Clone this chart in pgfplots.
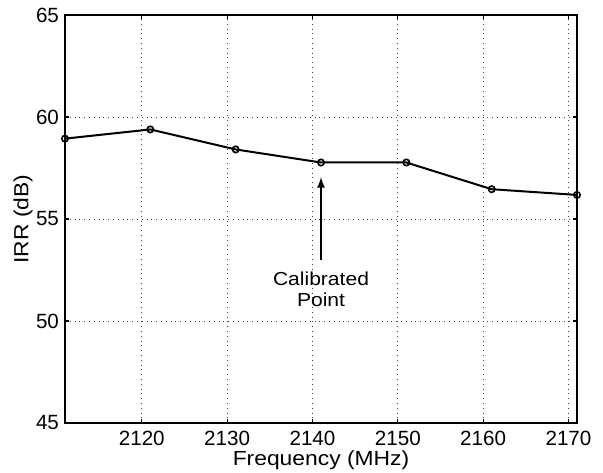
\documentclass[border=0pt]{standalone}
\usepackage{fontspec}
\setmainfont{Liberation Sans}
\newfontfamily\widesans[FakeStretch=1.12]{Liberation Sans}
\usepackage{pgfplots}
\pgfplotsset{compat=1.18}

\begin{document}
\begin{tikzpicture}
% fixed page: 603x472 px at 0.5pt per px
\path[use as bounding box] (-32.5pt,-24.5pt) rectangle (269pt,211.5pt);
\begin{axis}[%
width=256pt,
height=204pt,
at={(0pt,0pt)},
anchor=south west,
scale only axis,
xmin=2111,
xmax=2171,
ymin=45,
ymax=65,
xtick={2120,2130,...,2170},
ytick={45,50,...,65},
tick align=inside,
major tick length=2.2pt,
xmajorgrids,
ymajorgrids,
major grid style={dotted,line width=0.45pt,black!75},
axis line style={line width=1pt},
every tick/.style={black,line width=0.6pt},
/pgf/number format/1000 sep={},
/pgf/number format/assume math mode=true,
tick label style={font=\fontsize{10.3}{12}\selectfont},
xticklabel style={inner sep=0pt,anchor=north,yshift=-4pt},
yticklabel style={xshift=0.5pt},
xlabel={Frequency (MHz)},
ylabel={IRR (dB)},
label style={font=\widesans\fontsize{10.2}{12}\selectfont},
xlabel style={at={(axis description cs:0.5,0)},anchor=base,inner sep=0pt,yshift=-21.3pt},
ylabel style={at={(axis description cs:0,0.5)},anchor=center,yshift=21pt},
clip=false,
]
\addplot[color=black,line width=1pt,mark=o,mark size=1.6pt,mark options={line width=0.8pt}] coordinates {
(2111,58.94)
(2121,59.39)
(2131,58.41)
(2141,57.77)
(2151,57.77)
(2161,56.46)
(2171,56.18)
};
\draw[->,>=latex,line width=0.8pt] (axis cs:2141,53.0) -- (axis cs:2141,57.05);
\node[align=center,font=\widesans\fontsize{9.4}{10.8}\selectfont,inner sep=0pt] at (axis cs:2141,51.55) {Calibrated\\Point};
\end{axis}
\end{tikzpicture}
\end{document}
